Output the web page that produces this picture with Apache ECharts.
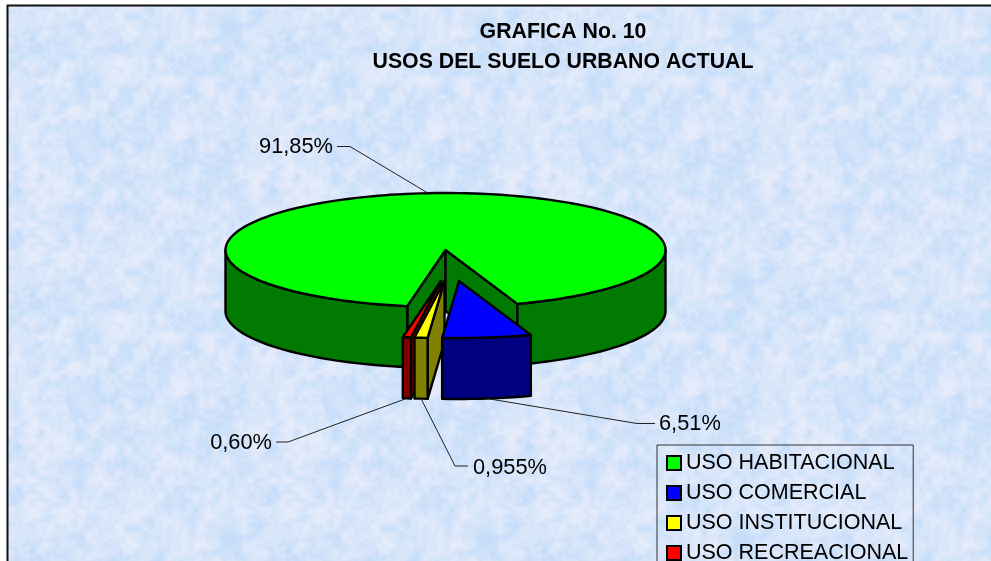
<!DOCTYPE html>
<html><head><meta charset="utf-8">
<style>html,body{margin:0;padding:0;background:#fff;overflow:hidden}#c{width:991px;height:561px}</style>
<script src="https://cdn.jsdelivr.net/npm/echarts@6/dist/echarts.min.js"></script>
</head><body><div id="c"></div>
<script>
const categories = ['USO HABITACIONAL','USO COMERCIAL','USO INSTITUCIONAL','USO RECREACIONAL'];
const values = [91.85, 6.51, 0.955, 0.60];
const valueLabels = ['91,85%','6,51%','0,955%','0,60%'];
const topColors = ['#00FF00','#0000FF','#FFFF00','#FF0000'];
const sideColors = ['#007A00','#000080','#808000','#800000'];
const titleText = 'GRAFICA No. 10\nUSOS DEL SUELO URBANO ACTUAL';

const FONT = '"Liberation Sans", Arial, sans-serif';
const PIE = {cx:445.5, cy:250, rx:220, ry:57, depth:61, startAngle:190};
const explodeX = [0, 13.5, -1, -4.5];
const explodeY = [0, 31, 31, 31];
const drawZ = [2, 5, 4, 3];
const labelPlace = [
  {x:333, y:147, align:'right', line:[[337,146.5],[350,146.5]]},
  {x:659, y:424, align:'left',  line:[[655,423.5],[637,423.5]]},
  {x:473, y:468, align:'left',  line:[[468,466],[455,466]]},
  {x:272, y:443, align:'right', line:[[276,442],[288,442]]}
];

// deterministic marbled paper tile
function makeTile(){
  const S=256, cv=document.createElement('canvas'); cv.width=cv.height=S;
  const g=cv.getContext('2d'), im=g.createImageData(S,S);
  const hash=(x,y,s)=>{let h=(x*374761393+y*668265263+s*1274126177)|0;h=Math.imul(h^(h>>>13),1274126177);return ((h^(h>>>16))>>>0)/4294967295;};
  const sm=t=>t*t*(3-2*t);
  const noise=(x,y,p,s)=>{const n=Math.round(S/p),fx=x/p,fy=y/p,ix=Math.floor(fx),iy=Math.floor(fy),tx=sm(fx-ix),ty=sm(fy-iy);
    const v=(a,b)=>hash(((a%n)+n)%n,((b%n)+n)%n,s);
    return (v(ix,iy)*(1-tx)+v(ix+1,iy)*tx)*(1-ty)+(v(ix,iy+1)*(1-tx)+v(ix+1,iy+1)*tx)*ty;};
  for(let y=0;y<S;y++)for(let x=0;x<S;x++){
    let a=noise(x,y,64,1)*0.12+noise(x,y,16,2)*0.33+noise(x,y,8,3)*0.3+noise(x,y,4,4)*0.25;
    a=Math.max(0,Math.min(1,(a-0.5)*2.2+0.5));
    const pink=noise(x,y,8,5);
    const r=196+a*30+pink*5, gg=222+a*13, b=250;
    const i=(y*S+x)*4; im.data[i]=r; im.data[i+1]=gg; im.data[i+2]=b; im.data[i+3]=255;
  }
  g.putImageData(im,0,0); return cv;
}

const total = values.reduce((a,b)=>a+b,0);
const ranges = []; { let a = PIE.startAngle; values.forEach(v=>{const b=a+v/total*360; ranges.push([a,b]); a=b;}); }
const rad = d=>d*Math.PI/180;

function sliceShapes(i){
  const [a,b]=ranges[i], ox=PIE.cx+explodeX[i], oy=PIE.cy+explodeY[i], D=PIE.depth;
  const pt=t=>[ox+PIE.rx*Math.sin(rad(t)), oy-PIE.ry*Math.cos(rad(t))];
  const arc=(s,e)=>{const n=Math.max(2,Math.ceil((e-s)/2)),out=[];for(let k=0;k<=n;k++)out.push(pt(s+(e-s)*k/n));return out;};
  const poly=(points,fill)=>({type:'polygon',shape:{points},style:{fill,stroke:'#000',lineWidth:2.4,lineJoin:'round'},silent:true});
  const down=p=>[p[0],p[1]+D];
  const kids=[];
  const wall=t=>{const e=pt(t);kids.push(poly([[ox,oy],e,down(e),[ox,oy+D]],sideColors[i]));};
  if(-Math.sin(rad(a))>0) wall(a);
  if(Math.sin(rad(b))>0) wall(b);
  [[90,270],[450,630]].forEach(([p,q])=>{
    const s=Math.max(a,p), e=Math.min(b,q);
    if(e>s){const t=arc(s,e);kids.push(poly(t.concat(t.map(down).reverse()),sideColors[i]));}
  });
  kids.push(poly([[ox,oy]].concat(arc(a,b)),topColors[i]));
  // leader anchored on the slice's mid-angle
  const mid=(a+b)/2, m=pt(mid), front=((mid%360)>90&&(mid%360)<270);
  const anchor=front?down(m):m, L=labelPlace[i];
  kids.push({type:'polyline',shape:{points:L.line.concat([anchor])},style:{fill:null,stroke:'#222',lineWidth:1},silent:true});
  kids.push({type:'text',style:{text:valueLabels[i],x:L.x,y:L.y,align:L.align,verticalAlign:'middle',font:'21.8px '+FONT,fill:'#000'},silent:true});
  return {type:'group',children:kids};
}

const chart = echarts.init(document.getElementById('c'),null,{renderer:'canvas'});
chart.setOption({
  animation:false,
  backgroundColor:'#fff',
  graphic:[{type:'rect',z:-10,silent:true,shape:{x:7.5,y:5.5,width:1100,height:700},
    style:{fill:{image:makeTile(),repeat:'repeat'},stroke:'#111',lineWidth:2}}],
  title:{text:titleText,left:558,top:12,textAlign:'center',
    textStyle:{fontFamily:FONT,fontSize:21.3,fontWeight:'bold',color:'#000',lineHeight:30}},
  legend:{orient:'vertical',left:657,top:445,width:254,height:140,padding:[6,5,6,9],itemWidth:14,itemHeight:14,itemGap:6,
    borderColor:'#333',borderWidth:1,backgroundColor:'transparent',selectedMode:false,icon:'rect',
    textStyle:{fontFamily:FONT,fontSize:21.5,color:'#000',lineHeight:24},
    data:categories.map((name,i)=>({name,itemStyle:{color:topColors[i],borderColor:'#000',borderWidth:2}}))},
  series:categories.map((name,i)=>({
    type:'custom',name,coordinateSystem:'none',z:drawZ[i],silent:true,
    itemStyle:{color:topColors[i]},
    data:[[values[i]]],
    renderItem:()=>sliceShapes(i)
  }))
});
</script></body></html>
